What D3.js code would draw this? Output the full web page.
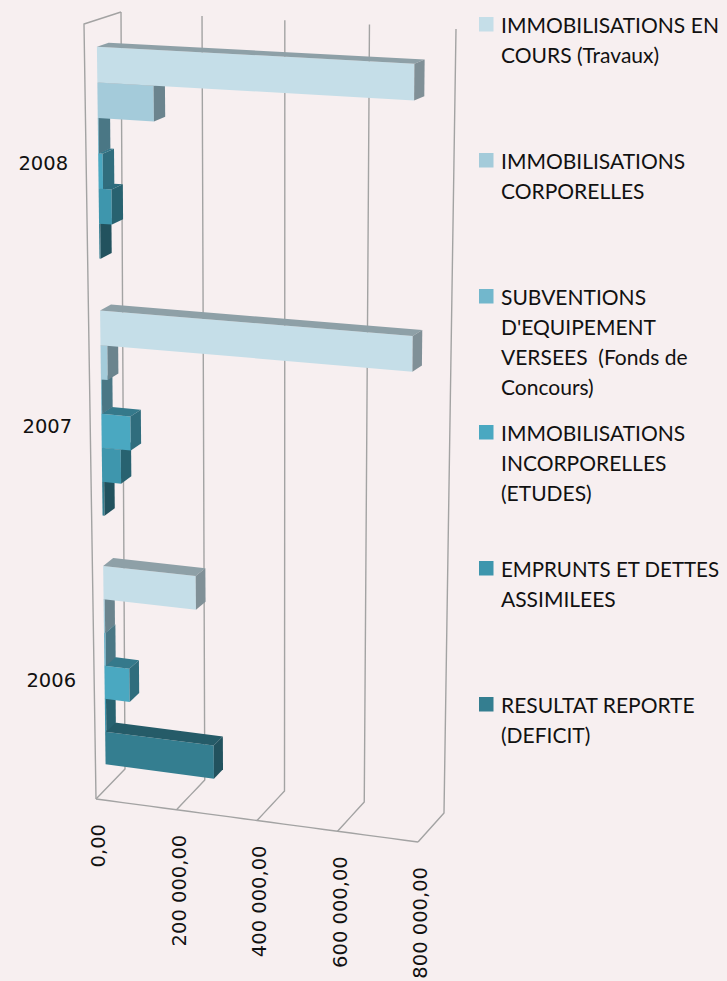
<!DOCTYPE html>
<html><head><meta charset="utf-8">
<script src="https://cdn.jsdelivr.net/npm/d3@7"></script>
<style>html,body{margin:0;padding:0;background:#f7eff0;} svg{display:block}</style>
</head><body>
<svg id="chart" width="727" height="981"></svg>
<script>
// ---------- DATA ----------
const categories = ["2006", "2007", "2008"];
const seriesNames = [
  "IMMOBILISATIONS EN COURS (Travaux)",
  "IMMOBILISATIONS CORPORELLES",
  "SUBVENTIONS D'EQUIPEMENT VERSEES (Fonds de Concours)",
  "IMMOBILISATIONS INCORPORELLES (ETUDES)",
  "EMPRUNTS ET DETTES ASSIMILEES",
  "RESULTAT REPORTE (DEFICIT)"
];
// legend lines; lines flagged "justify" are stretched to the full legend width
const legendLines = [
  ["IMMOBILISATIONS EN", "COURS (Travaux)"],
  ["IMMOBILISATIONS", "CORPORELLES"],
  ["SUBVENTIONS", "D'EQUIPEMENT", "VERSEES  (Fonds de", "Concours)"],
  ["IMMOBILISATIONS", "INCORPORELLES", "(ETUDES)"],
  ["EMPRUNTS ET DETTES", "ASSIMILEES"],
  ["RESULTAT REPORTE", "(DEFICIT)"]
];
const justifiedLines = ["IMMOBILISATIONS EN", "EMPRUNTS ET DETTES"];
// values by category (2006, 2007, 2008)
const enCours       = [229000, 755000, 754000];
const corporelles   = [3000, 17000, 138000];
const subventions   = [4000, 2000, 2000];
const incorporelles = [62000, 72000, 11000];
const emprunts      = [3000, 47000, 32000];
const resultat      = [270000, 5000, 3000];
const seriesValues = [enCours, corporelles, subventions, incorporelles, emprunts, resultat];
const tickValues = [0, 200000, 400000, 600000, 800000];
const seriesColors = ["#c5dee8", "#a4cbda", "#72b7cc", "#4aa8c1", "#3e96ad", "#347e90"];

// ---------- LAYOUT (3D box corners on screen) ----------
const FRONT = {tl:[84,24], tr:[424,41], bl:[96,799], br:[418,842]};
const BACK  = {tl:[121,12], tr:[456,29], bl:[125,769], br:[444,813]};
const KC = 0.05, KU = -0.043;
const Z0 = 0.34, Z1 = 0.66;
const LEGEND_W = 218;

const svg = d3.select("#chart");
svg.append("rect").attr("width",727).attr("height",981).attr("fill","#f7eff0");

const x = d3.scaleLinear().domain([0, 800000]).range([0, 1]);
const yCat = d3.scaleBand().domain(categories.slice().reverse()).range([0, 1])
  .paddingInner(0.2).paddingOuter(0.1);
const ySer = d3.scaleBand().domain(d3.range(seriesNames.length)).range([0, yCat.bandwidth()]);

function bil(P, u, c) {
  const t = [P.tl[0] + (P.tr[0]-P.tl[0])*u, P.tl[1] + (P.tr[1]-P.tl[1])*u];
  const b = [P.bl[0] + (P.br[0]-P.bl[0])*u, P.bl[1] + (P.br[1]-P.bl[1])*u];
  return [t[0] + (b[0]-t[0])*c, t[1] + (b[1]-t[1])*c];
}
function proj(v, c, z) {
  const cw = c*(1+KC)/(1+KC*c);
  const k = KU*(1-cw);
  const u0 = x(v);
  const u = u0*(1+k)/(1+k*u0);
  const f = bil(FRONT, u, cw), b = bil(BACK, u, cw);
  return [f[0] + (b[0]-f[0])*z, f[1] + (b[1]-f[1])*z];
}
const line = d3.line();
function seg(a, b, n=24) {
  return d3.range(n+1).map(i => {
    const t = i/n;
    return proj(a[0]+(b[0]-a[0])*t, a[1]+(b[1]-a[1])*t, a[2]+(b[2]-a[2])*t);
  });
}

// ---------- GRID / WALLS ----------
const grid = svg.append("g").attr("fill","none").attr("stroke","#a3a3a3").attr("stroke-width",1.4)
  .attr("stroke-linejoin","round");
tickValues.forEach(t => {
  grid.append("path").attr("d", line(seg([t,0,1],[t,1,1]).concat(seg([t,1,1],[t,1,0],4))));
});
grid.append("path").attr("d", line(seg([0,0,1],[0,0,0],4).concat(seg([0,0,0],[0,1,0]))));
grid.append("path").attr("d", line(seg([0,1,0],[800000,1,0])));

// ---------- BARS ----------
const shade = (col, f) => { const c = d3.rgb(col); return d3.rgb(c.r*f, c.g*f, c.b*f).formatHex(); };
const bars = svg.append("g").attr("stroke","none");
const drawOrder = [];
categories.forEach((cat, ci) => {
  for (let s = seriesNames.length-1; s >= 0; s--) drawOrder.push({cat, ci, s});
});
drawOrder.forEach(({cat, ci, s}) => {
  const v = seriesValues[s][ci];
  const c0 = yCat(cat) + ySer(s), c1 = c0 + ySer.bandwidth();
  const col = seriesColors[s];
  const g = bars.append("g");
  const poly = pts => g.append("path").attr("d", "M" + pts.map(p => p.join(",")).join("L") + "Z");
  poly([proj(0,c0,Z0), proj(v,c0,Z0), proj(v,c1,Z0), proj(0,c1,Z0)]).attr("fill", col);
  poly([proj(0,c0,Z0), proj(v,c0,Z0), proj(v,c0,Z1), proj(0,c0,Z1)]).attr("fill", shade(col,0.72));
  poly([proj(v,c0,Z0), proj(v,c0,Z1), proj(v,c1,Z1), proj(v,c1,Z0)]).attr("fill", shade(col,0.65));
});

// ---------- AXIS LABELS ----------
const fmt = d3.formatLocale({decimal:",", thousands:"\u00a0", grouping:[3], currency:["",""]}).format(",.2f");
const ax = svg.append("g").attr("font-family","DejaVu Sans").attr("font-size",19.5).attr("fill","#111");
tickValues.forEach(t => {
  const p = proj(t,1,0);
  ax.append("text").attr("text-anchor","end")
    .attr("transform",`translate(${p[0]+9},${p[1]+25}) rotate(-90)`)
    .text(fmt(t));
});
categories.forEach(cat => {
  const p = proj(0, yCat(cat) + yCat.bandwidth()/2, 0);
  ax.append("text").attr("text-anchor","end").attr("x", p[0]-18).attr("y", p[1]+5)
    .attr("dy","0.35em").text(cat);
});

// ---------- LEGEND ----------
const leg = svg.append("g").attr("font-family","Lato").attr("font-size",21).attr("fill","#111");
legendLines.forEach((lines, i) => {
  const base = 33 + i*136;
  leg.append("rect").attr("x",479).attr("y",base-16).attr("width",14.5).attr("height",14.5)
    .attr("fill", seriesColors[i]);
  lines.forEach((ln, j) => {
    const t = leg.append("text").attr("x",501).attr("y", base + j*30)
      .attr("xml:space","preserve").style("white-space","pre").text(ln);
    let w = t.node().getComputedTextLength();
    if (w > LEGEND_W) {
      t.attr("font-size", 21*LEGEND_W/w);
      w = t.node().getComputedTextLength();
    }
    if (justifiedLines.includes(ln)) {
      const gaps = ln.split(" ").length - 1;
      if (gaps > 0 && w < LEGEND_W) t.attr("word-spacing", (LEGEND_W - w)/gaps);
    }
  });
});
</script>
</body></html>
